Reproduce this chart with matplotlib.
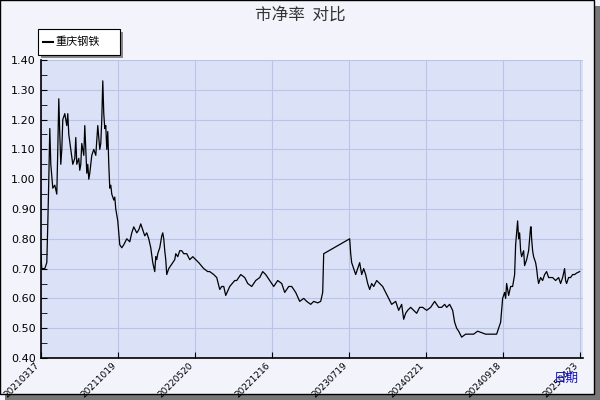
import matplotlib.pyplot as plt
import numpy as np
from matplotlib.patches import Rectangle

plt.rcParams['font.family'] = ['Noto Sans CJK SC', 'DejaVu Sans']

# trading-day index and P/B value
day = [0, 2, 8, 12, 14, 16, 18, 20, 24, 28, 32, 34, 36, 38, 40, 42, 44, 48, 52, 54, 56, 60, 64, 68, 70, 72,
       76, 78, 80, 82, 86, 88, 90, 92, 94, 96, 98, 102, 106, 110, 114, 118, 120, 122, 124, 126, 128, 130,
       132, 134, 136, 138, 140, 142, 146, 148, 150, 154, 156, 158, 162, 166, 172, 178, 182, 186, 192, 196,
       200, 204, 208, 212, 216, 220, 224, 228, 230, 232, 234, 238, 242, 244, 246, 248, 250, 252, 254, 256,
       260, 264, 268, 270, 274, 278, 282, 286, 292, 298, 304, 316, 326, 334, 338, 346, 352, 358, 362, 366,
       370, 378, 388, 392, 400, 408, 414, 422, 430, 438, 444, 450, 458, 466, 474, 482, 488, 496, 502, 510,
       518, 526, 532, 540, 546, 554, 560, 564, 566, 618, 620, 622, 626, 630, 634, 638, 642, 644, 646, 650,
       654, 658, 662, 666, 672, 678, 684, 690, 696, 702, 710, 716, 722, 726, 730, 734, 740, 746, 752, 758,
       764, 772, 780, 788, 796, 802, 808, 812, 818, 824, 828, 832, 836, 842, 850, 858, 866, 874, 882, 890,
       898, 906, 912, 920, 924, 928, 930, 932, 936, 940, 944, 948, 950, 952, 954, 956, 958, 960, 962, 966,
       968, 972, 976, 980, 981, 982, 984, 986, 990, 992, 994, 996, 1000, 1004, 1008, 1012, 1016, 1020, 1024,
       1030, 1036, 1040, 1044, 1048, 1050, 1052, 1056, 1060, 1064, 1068, 1072, 1078]
pb = [0.75, 0.70, 0.70, 0.72, 0.85, 1.00, 1.17, 1.05, 0.97, 0.98, 0.95, 1.10, 1.27, 1.15, 1.05, 1.10,
      1.20, 1.22, 1.18, 1.22, 1.15, 1.10, 1.05, 1.07, 1.14, 1.05, 1.07, 1.03, 1.05, 1.12, 1.08, 1.18, 1.10,
      1.02, 1.05, 1.00, 1.02, 1.08, 1.10, 1.08, 1.18, 1.10, 1.12, 1.20, 1.33, 1.22, 1.17, 1.18, 1.10, 1.16,
      1.05, 0.97, 0.98, 0.95, 0.93, 0.94, 0.90, 0.86, 0.82, 0.78, 0.77, 0.78, 0.80, 0.79, 0.82, 0.84, 0.82,
      0.83, 0.85, 0.83, 0.81, 0.82, 0.80, 0.77, 0.72, 0.69, 0.74, 0.73, 0.75, 0.77, 0.81, 0.82, 0.80, 0.76,
      0.73, 0.68, 0.69, 0.70, 0.71, 0.72, 0.73, 0.75, 0.74, 0.76, 0.76, 0.75, 0.75, 0.73, 0.74, 0.72, 0.70,
      0.69, 0.69, 0.68, 0.67, 0.63, 0.64, 0.64, 0.61, 0.64, 0.66, 0.66, 0.68, 0.67, 0.65, 0.64, 0.66,
      0.67, 0.69, 0.68, 0.66, 0.64, 0.66, 0.65, 0.62, 0.64, 0.64, 0.62, 0.59, 0.60, 0.59, 0.58, 0.59,
      0.585, 0.59, 0.62, 0.75, 0.80, 0.75, 0.72, 0.70, 0.68, 0.70, 0.72, 0.68, 0.69, 0.70, 0.68, 0.65,
      0.63, 0.65, 0.64, 0.66, 0.65, 0.64, 0.62, 0.60, 0.58, 0.59, 0.56, 0.58, 0.53, 0.55, 0.56, 0.57,
      0.56, 0.55, 0.57, 0.57, 0.56, 0.57, 0.59, 0.57, 0.57, 0.58, 0.57, 0.58, 0.56, 0.52, 0.50, 0.49,
      0.47, 0.48, 0.48, 0.48, 0.49, 0.485, 0.48, 0.48, 0.48, 0.48, 0.52, 0.60, 0.62, 0.60, 0.65, 0.61,
      0.64, 0.64, 0.68, 0.78, 0.82, 0.86, 0.80, 0.82, 0.76, 0.74, 0.76, 0.71, 0.73, 0.76, 0.84, 0.84,
      0.80, 0.76, 0.74, 0.72, 0.70, 0.67, 0.65, 0.67, 0.66, 0.68, 0.69, 0.67, 0.67, 0.67, 0.66, 0.67,
      0.65, 0.67, 0.70, 0.66, 0.65, 0.67, 0.67, 0.68, 0.68, 0.685, 0.69]
tick_days = [0, 154, 308, 462, 616, 770, 924, 1078]
tick_labels = ['20210317', '20211019', '20220520', '20221216', '20230719', '20240221', '20240918', '20250423']

fig = plt.figure(figsize=(6, 4), dpi=100, facecolor='#f2f3fb')
# frame with shadow
fig.patches.append(Rectangle((0.008, 0.0), 0.992, 0.985, transform=fig.transFigure,
                             facecolor='#777777', edgecolor='none', zorder=-2))
fig.patches.append(Rectangle((0.0, 0.015), 0.99, 0.985, transform=fig.transFigure,
                             facecolor='#f2f3fb', edgecolor='black', lw=1, zorder=-1))

ax = fig.add_axes([0.068, 0.105, 0.903, 0.745])
ax.set_facecolor('#dbe2f7')
ax.plot(day, pb, color='black', lw=0.9)
ax.set_xlim(0, 1084)
ax.set_ylim(0.4, 1.4)
ax.set_yticks(np.arange(0.4, 1.41, 0.1))
ax.set_yticks(np.arange(0.45, 1.4, 0.1), minor=True)
ax.set_yticklabels([f'{v:.2f}' for v in np.arange(0.4, 1.41, 0.1)], fontsize=8, family='DejaVu Sans')
ax.set_xticks(tick_days)
ax.set_xticklabels(tick_labels, rotation=45, ha='right', fontsize=6.5, family='DejaVu Sans')
ax.tick_params(axis='x', direction='in', length=4, pad=2)
ax.tick_params(axis='y', which='both', direction='in', length=4)
ax.grid(True, color='#b9c5e8', lw=0.8)
ax.set_axisbelow(True)
for s in ['top', 'right']:
    ax.spines[s].set_visible(False)
ax.spines['left'].set_linewidth(1.2)
ax.spines['bottom'].set_linewidth(1.2)

fig.text(0.5, 0.962, '市净率  对比', ha='center', va='center', fontsize=12, color='#333333')
fig.text(0.965, 0.055, '日期', ha='right', va='center', fontsize=9, color='#1010cc')

# legend box
fig.patches.append(Rectangle((0.068, 0.855), 0.137, 0.065, transform=fig.transFigure,
                             facecolor='#888888', edgecolor='none'))
fig.patches.append(Rectangle((0.063, 0.862), 0.137, 0.065, transform=fig.transFigure,
                             facecolor='white', edgecolor='black', lw=0.8))
fig.lines.append(plt.Line2D([0.072, 0.088], [0.895, 0.895], transform=fig.transFigure, color='black', lw=1.5))
fig.text(0.093, 0.895, '重庆钢铁', va='center', fontsize=8)

fig.savefig('out.png', dpi=100, facecolor=fig.get_facecolor())
